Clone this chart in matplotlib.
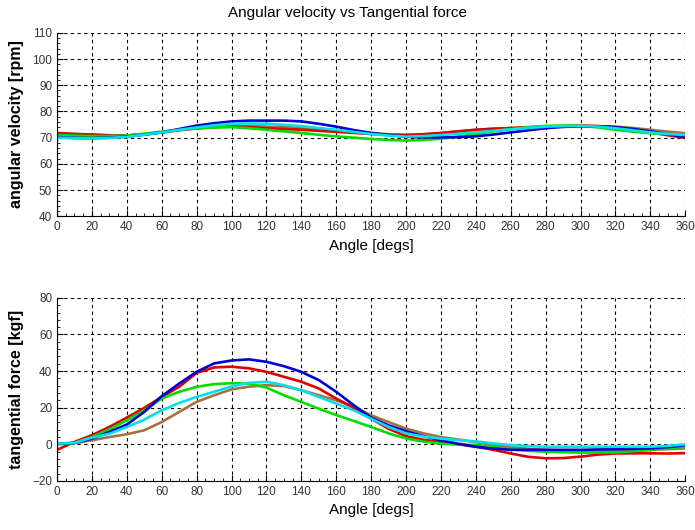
import matplotlib
matplotlib.use("Agg")
import matplotlib.pyplot as plt
from matplotlib.ticker import MultipleLocator

# angle samples [degs], every 10 degs
angle = list(range(0, 361, 10))

# angular velocity [rpm]
vel_blue = [70.2, 69.9, 69.8, 70.0, 70.4, 71.1, 72.0, 73.3, 74.6, 75.5, 76.2, 76.5, 76.5, 76.5, 76.2, 75.3, 74.2, 72.9, 71.8,
            71.0, 70.4, 70.1, 70.1, 70.2, 70.5, 71.2, 72.0, 72.8, 73.6, 74.1, 74.3, 74.3, 74.0, 73.3, 72.4, 71.3, 70.2]
vel_red = [71.7, 71.4, 71.2, 70.9, 70.8, 71.3, 72.0, 72.9, 73.6, 74.0, 74.2, 74.0, 73.6, 73.3, 73.0, 72.6, 72.2, 71.8, 71.4,
           71.1, 71.0, 71.3, 71.8, 72.4, 73.0, 73.4, 73.7, 74.0, 74.2, 74.4, 74.6, 74.4, 74.0, 73.1, 72.0, 70.9, 69.9]
vel_green = [71.0, 70.8, 70.6, 70.6, 70.8, 71.5, 72.3, 73.0, 73.6, 73.9, 74.0, 73.6, 73.0, 72.4, 71.8, 71.1, 70.5, 70.0, 69.5,
             69.1, 68.9, 69.1, 69.6, 70.4, 71.4, 72.4, 73.2, 74.0, 74.5, 74.6, 74.5, 73.9, 73.0, 72.3, 71.7, 71.3, 71.0]
vel_cyan = [70.0, 69.8, 69.7, 69.9, 70.3, 71.1, 72.0, 73.0, 73.9, 74.7, 75.3, 75.4, 75.3, 74.9, 74.4, 73.7, 73.0, 72.2, 71.4,
            70.8, 70.4, 70.6, 71.0, 71.5, 72.0, 72.6, 73.2, 73.7, 74.2, 74.4, 74.5, 74.2, 73.6, 72.8, 72.0, 71.4, 71.0]
vel_brown = [71.8, 71.4, 71.1, 70.9, 70.8, 71.3, 72.0, 72.8, 73.5, 74.1, 74.5, 74.4, 74.2, 74.0, 73.7, 73.2, 72.7, 72.3, 71.8,
             71.3, 71.0, 71.3, 71.7, 72.4, 73.0, 73.4, 73.6, 73.8, 74.0, 74.3, 74.5, 74.4, 74.2, 73.7, 73.0, 72.3, 71.7]

# tangential force [kgf]
f_blue = [0.4, 0.8, 3.1, 6.8, 10.8, 17.7, 26.3, 33.2, 39.6, 44.2, 45.8, 46.4, 45.1, 42.7, 39.6, 35.1, 28.7, 21.4, 14.6,
          10.4, 7.2, 4.5, 2.2, 0.3, -1.3, -2.3, -3.0, -3.0, -3.0, -3.0, -3.0, -2.8, -2.7, -2.5, -2.2, -1.5, -0.5]
f_red = [-3.0, 1.3, 5.0, 9.5, 14.6, 19.9, 25.9, 31.4, 39.0, 42.0, 42.4, 41.5, 39.6, 36.9, 34.2, 30.5, 25.0, 20.0, 14.0,
         8.5, 4.5, 2.5, 1.2, 0.0, -1.3, -3.0, -5.0, -6.8, -7.6, -7.5, -6.7, -5.6, -5.0, -4.9, -4.9, -5.0, -4.8]
f_green = [0.0, 0.8, 4.0, 8.2, 13.1, 18.6, 25.0, 28.7, 31.4, 32.9, 33.4, 33.2, 31.0, 26.8, 23.2, 19.5, 16.0, 12.8, 9.5,
           6.0, 3.2, 1.5, 0.4, 0.0, -0.4, -1.5, -2.7, -3.5, -4.0, -4.3, -4.5, -4.5, -4.5, -3.8, -3.0, -2.2, -1.3]
f_cyan = [0.4, 0.8, 3.7, 5.8, 9.5, 13.5, 18.6, 22.6, 25.9, 28.7, 31.6, 33.6, 34.2, 32.3, 29.6, 25.9, 22.3, 18.6, 14.0,
          9.5, 6.0, 4.3, 3.1, 2.3, 1.6, 0.5, -0.4, -1.0, -1.3, -1.3, -1.3, -1.3, -1.3, -1.3, -1.3, -0.8, 0.0]
f_brown = [0.4, 0.7, 2.2, 4.0, 5.5, 7.7, 12.2, 17.7, 23.2, 26.8, 30.0, 31.5, 32.3, 31.8, 29.6, 26.8, 24.1, 20.5, 15.9,
           12.2, 8.6, 6.0, 4.0, 2.6, 1.2, -0.3, -1.6, -2.4, -3.0, -3.5, -4.0, -4.0, -4.0, -3.5, -3.0, -2.6, -2.2]

colors = {'blue': '#0000d0', 'red': '#e00000', 'green': '#00dd00', 'cyan': '#00e0e8', 'brown': '#a87040'}

plt.rcParams['font.family'] = ['Liberation Sans', 'DejaVu Sans']


def style_axes(ax, ymin, ymax, ystep, yminor, ylabel):
    ax.set_xlim(0, 360)
    ax.set_ylim(ymin, ymax)
    ax.xaxis.set_major_locator(MultipleLocator(20))
    ax.xaxis.set_minor_locator(MultipleLocator(5))
    ax.yaxis.set_major_locator(MultipleLocator(ystep))
    ax.yaxis.set_minor_locator(MultipleLocator(yminor))
    ax.grid(True, which='major', color='black', linestyle=(0, (3, 3)), linewidth=0.8)
    for s in ['top', 'right']:
        ax.spines[s].set_visible(False)
    ax.tick_params(which='both', direction='in', labelsize=8.5, labelcolor='#333333')
    ax.tick_params(which='major', length=4)
    ax.tick_params(which='minor', length=2.5)
    ax.set_xlabel('Angle [degs]', fontsize=11)
    ax.set_ylabel(ylabel, fontsize=11.5, fontweight='bold', labelpad=6)


fig = plt.figure(figsize=(6.95, 5.30), dpi=100)
ax1 = fig.add_axes([0.082, 0.592, 0.904, 0.346])
ax2 = fig.add_axes([0.082, 0.0925, 0.904, 0.3455])

lw = 1.9
ax1.plot(angle, vel_brown, color=colors['brown'], lw=lw)
ax1.plot(angle, vel_red, color=colors['red'], lw=lw)
ax1.plot(angle, vel_green, color=colors['green'], lw=lw)
ax1.plot(angle, vel_blue, color=colors['blue'], lw=lw)
ax1.plot(angle, vel_cyan, color=colors['cyan'], lw=lw)
style_axes(ax1, 40, 110, 10, 2, 'angular velocity [rpm]')

ax2.plot(angle, f_brown, color=colors['brown'], lw=lw)
ax2.plot(angle, f_red, color=colors['red'], lw=lw)
ax2.plot(angle, f_green, color=colors['green'], lw=lw)
ax2.plot(angle, f_blue, color=colors['blue'], lw=lw)
ax2.plot(angle, f_cyan, color=colors['cyan'], lw=lw)
style_axes(ax2, -20, 80, 20, 4, 'tangential force [kgf]')

fig.text(0.5, 0.975, 'Angular velocity vs Tangential force', ha='center', va='center', fontsize=11)

fig.savefig('out.png', dpi=100)
